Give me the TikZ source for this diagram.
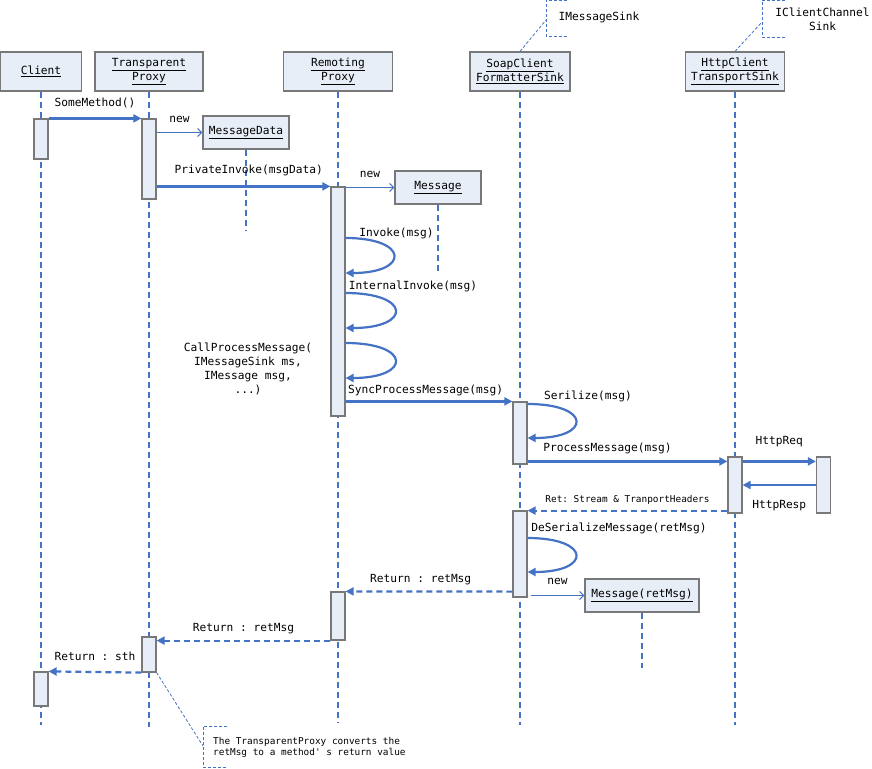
\documentclass[tikz,border=0pt]{standalone}
\usepackage{fontspec}
\setmonofont{DejaVu Sans Mono}
\usetikzlibrary{arrows.meta,positioning}

\definecolor{lienbleu}{RGB}{68,114,196}
\definecolor{fondbleu}{RGB}{232,238,247}
\definecolor{bordgris}{RGB}{120,120,120}

\newcommand{\objname}[1]{\underline{#1}}

\tikzset{
	objet/.style={draw=bordgris, fill=fondbleu, line width=1.2pt, inner sep=1pt, align=center,
		font=\ttfamily\fontsize{11.2}{14}\selectfont},
	activ/.style={draw=bordgris, fill=fondbleu, line width=1.2pt, minimum width=14pt, inner sep=0pt},
	vie/.style={lienbleu, line width=2pt, dash pattern=on 6pt off 4pt},
	appel/.style={lienbleu, line width=2.2pt, -{Triangle[length=8pt,width=8pt]}},
	creer/.style={lienbleu, line width=1.1pt, -{Straight Barb[length=4pt,width=8pt]}},
	retour/.style={appel, dash pattern=on 6pt off 4pt},
	etiq/.style={text=black, font=\ttfamily\fontsize{11.2}{14}\selectfont, inner sep=0pt, text height=8pt, text depth=2pt},
	petit/.style={text=black, font=\ttfamily\fontsize{9.4}{11}\selectfont, inner sep=0pt},
	renvoi/.style={lienbleu, line width=0.8pt, dash pattern=on 3pt off 2pt},
}

\begin{document}
\begin{tikzpicture}[x=1pt, y=-1pt]
	\useasboundingbox (0,0) rectangle (872,768);
	% Objets en tete
	\node[objet, minimum width=81pt, minimum height=39pt] (client) at (41,71.5) {\objname{Client}};
	\node[objet, minimum width=108pt, minimum height=39pt] (tp) at (149,71.5) {\objname{Transparent}\\\objname{Proxy}};
	\node[objet, minimum width=109pt, minimum height=39pt] (rp) at (338,71.5) {\objname{Remoting}\\\objname{Proxy}};
	\node[objet, minimum width=100pt, minimum height=39pt] (sc) at (520,71.5) {\objname{SoapClient}\\\objname{FormatterSink}};
	\node[objet, minimum width=99pt, minimum height=39pt] (ht) at (735,71.5) {\objname{HttpClient}\\\objname{TransportSink}};
	% Lignes de vie
	\draw[vie] (client.south) -- (client.south |- 0,725);
	\draw[vie] (tp.south) -- (tp.south |- 0,727);
	\draw[vie] (rp.south) -- (rp.south |- 0,722);
	\draw[vie] (sc.south) -- (sc.south |- 0,725);
	\draw[vie] (ht.south) -- (ht.south |- 0,725);
	% Objets crees
	\node[objet, minimum width=86pt, minimum height=33pt] (md) at (246,132.5) {\objname{MessageData}};
	\draw[vie] (md.south) -- (md.south |- 0,230);
	\node[objet, minimum width=86pt, minimum height=33pt] (msg) at (438,187.5) {\objname{Message}};
	\draw[vie] (msg.south) -- (msg.south |- 0,273);
	\node[objet, minimum width=114pt, minimum height=33pt] (mr) at (642,595.5) {\objname{Message(retMsg)}};
	\draw[vie] (mr.south) -- (mr.south |- 0,668);
	% Activations
	\node[activ, minimum height=40pt] (c1) at (41,139) {};
	\node[activ, minimum height=34pt] (c2) at (41,689) {};
	\node[activ, minimum height=80pt] (tp1) at (149,159) {};
	\node[activ, minimum height=35pt] (tp2) at (149,654.5) {};
	\node[activ, minimum height=229pt] (rp1) at (338,301.5) {};
	\node[activ, minimum height=48pt] (rp2) at (338,616) {};
	\node[activ, minimum height=62pt] (sc1) at (520,433) {};
	\node[activ, minimum height=86pt] (sc2) at (520,554) {};
	\node[activ, minimum height=56pt] (ht1) at (735,485) {};
	\node[activ, minimum height=56pt] (hr1) at (823.5,485) {};
	% Appels
	\draw[appel] (c1.north east) -- node[etiq, above=9pt] {SomeMethod()} (tp1.north west);
	\draw[creer] (tp1.east |- md.west) -- node[etiq, above=7pt] {new} (md.west);
	\draw[appel] (tp1.east |- rp1.north) -- node[etiq, above=10pt, pos=0.53] {PrivateInvoke(msgData)} (rp1.north west);
	\draw[creer] (rp1.east |- msg.west) -- node[etiq, above=7pt] {new} (msg.west);
	% Boucles sur RemotingProxy
	\coordinate (inv1) at (rp1.east |- 0,238);
	\coordinate (inv2) at (rp1.east |- 0,273);
	\draw[appel] (inv1) .. controls ([xshift=64pt]inv1) and ([xshift=64pt]inv2) .. (inv2);
	\draw (396.5,233) node[etiq] {Invoke(msg)};
	\coordinate (int1) at (rp1.east |- 0,293);
	\coordinate (int2) at (rp1.east |- 0,328);
	\draw[appel] (int1) .. controls ([xshift=66pt]int1) and ([xshift=66pt]int2) .. (int2);
	\draw (413,286) node[etiq] {InternalInvoke(msg)};
	\coordinate (cpm1) at (rp1.east |- 0,343);
	\coordinate (cpm2) at (rp1.east |- 0,378);
	\draw[appel] (cpm1) .. controls ([xshift=66pt]cpm1) and ([xshift=66pt]cpm2) .. (cpm2);
	\node[etiq, align=center, text height=, text depth=] (cpm) at (248,369) {CallProcessMessage(\\IMessageSink ms,\\IMessage msg,\\...)};
	\draw[appel] (rp1.east |- sc1.north) -- node[etiq, above=5pt, pos=0.48] {SyncProcessMessage(msg)} (sc1.north west);
	% Boucle sur SoapClientFormatterSink
	\coordinate (ser1) at (sc1.east |- 0,404);
	\coordinate (ser2) at (sc1.east |- 0,438);
	\draw[appel] (ser1) .. controls ([xshift=64pt]ser1) and ([xshift=64pt]ser2) .. (ser2);
	\draw (588,396) node[etiq] {Serilize(msg)};
	\draw[appel] ([yshift=-5pt]ht1.north west -| sc1.east) -- node[etiq, above=7pt, pos=0.4] {ProcessMessage(msg)} ([yshift=-5pt]ht1.north west);
	\draw[appel] ([yshift=-5pt]ht1.north east) -- node[etiq, above=14pt] {HttpReq} ([yshift=-5pt]hr1.north west);
	\draw[appel] (hr1.west) -- node[etiq, below=14pt] {HttpResp} (ht1.east);
	% Retours
	\draw[retour] ([yshift=3pt]ht1.south west) -- node[petit, above=5pt, text height=7pt, text depth=2pt] {Ret: Stream \& TranportHeaders} ([yshift=3pt]ht1.south west -| sc2.east);
	\coordinate (des1) at (sc2.east |- 0,538);
	\coordinate (des2) at (sc2.east |- 0,572);
	\draw[appel] (des1) .. controls ([xshift=64pt]des1) and ([xshift=64pt]des2) .. (des2);
	\draw (619,528) node[etiq] {DeSerializeMessage(retMsg)};
	\draw[creer] ([xshift=3pt]sc2.east |- mr.west) -- node[etiq, above=8pt] {new} (mr.west);
	\draw[retour] ([yshift=6pt]sc2.south west) -- node[etiq, above=6pt, pos=0.55] {Return : retMsg} (rp2.north east);
	\draw[retour] (rp2.south west) -- node[etiq, above=6pt] {Return : retMsg} (tp2.east |- rp2.south);
	\draw[retour] (tp2.south west) -- node[etiq, above=8pt] {Return : sth} (c2.north east);
	% Notes
	\draw[renvoi] (567,0) -- (546,0) -- (546,36) -- (567,36);
	\node[etiq] (nms) at (599,18) {IMessageSink};
	\coordinate (nmsp) at (546,20);
	\draw[renvoi] (sc.north) -- (nmsp);
	\draw[renvoi] (785,0) -- (762,0) -- (762,37) -- (785,37);
	\node[etiq, align=center, text height=, text depth=] (ncc) at (822.5,19) {IClientChannel\\Sink};
	\coordinate (nccp) at (762,22);
	\draw[renvoi] (ht.north) -- (nccp);
	\draw[renvoi] (227,726) -- (203,726) -- (203,767) -- (227,767);
	\node[petit, align=left, anchor=west] (ntp) at (213,747.5) {The TransparentProxy converts the\\retMsg to a method' s return value};
	\coordinate (ntpp) at (203,746);
	\draw[renvoi] (tp2.south east) -- (ntpp);
\end{tikzpicture}
\end{document}
